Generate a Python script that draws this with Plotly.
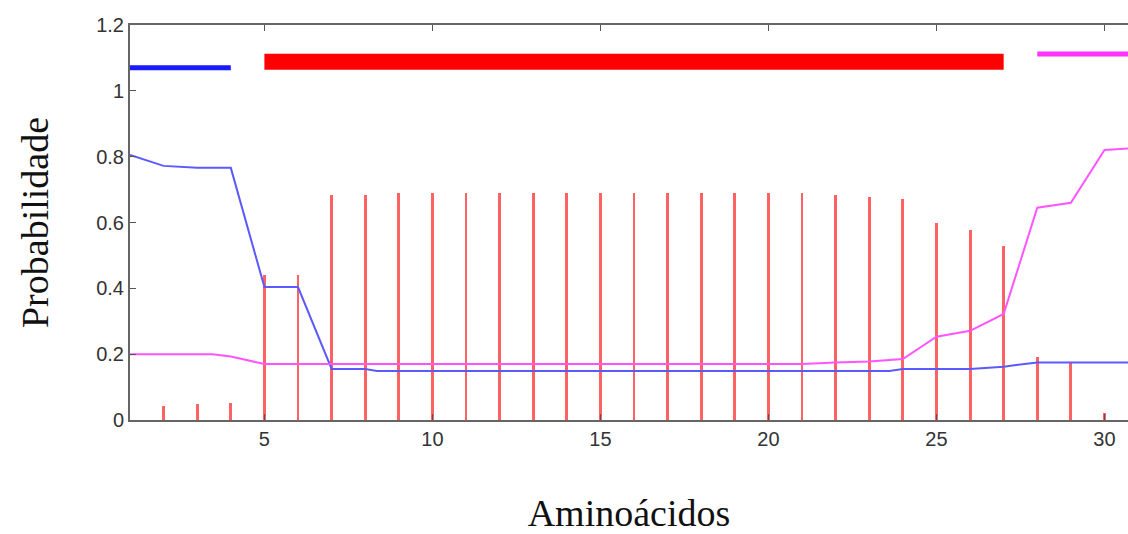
import plotly.graph_objects as go

# Residue positions
positions = list(range(1, 31))

# Red impulses (per-residue probability)
impulse_values = [0.0, 0.042, 0.048, 0.052, 0.44, 0.44, 0.684, 0.684, 0.69, 0.69,
                  0.69, 0.69, 0.69, 0.69, 0.69, 0.69, 0.69, 0.69, 0.69, 0.69,
                  0.69, 0.684, 0.678, 0.67, 0.60, 0.578, 0.53, 0.19, 0.173, 0.02]

# Blue curve
blue_x = [1, 2, 3, 4, 5, 6, 7, 8, 8.35, 23.6, 24, 25, 26, 27, 28, 29, 30, 30.7]
blue_y = [0.805, 0.772, 0.766, 0.766, 0.404, 0.404, 0.155, 0.155, 0.149, 0.149,
          0.155, 0.155, 0.155, 0.162, 0.175, 0.175, 0.175, 0.175]

# Magenta curve
mag_x = [1, 2, 3, 3.45, 4, 5, 6, 21, 22, 23, 24, 25, 26, 27, 28, 29, 30, 30.7]
mag_y = [0.2, 0.2, 0.2, 0.2, 0.193, 0.17, 0.17, 0.17, 0.175, 0.178, 0.185,
         0.253, 0.271, 0.322, 0.645, 0.66, 0.82, 0.825]

# Top segment annotations
blue_seg_x = [1, 4]
blue_seg_y = [1.07, 1.07]
red_seg_x = [5, 27]
red_seg_y = [1.088, 1.088]
mag_seg_x = [28, 30.7]
mag_seg_y = [1.112, 1.112]

x_ticks = [5, 10, 15, 20, 25, 30]
y_ticks = [0, 0.2, 0.4, 0.6, 0.8, 1, 1.2]
y_tick_text = ["0", "0.2", "0.4", "0.6", "0.8", "1", "1.2"]

fig = go.Figure()

fig.add_trace(go.Bar(x=positions, y=impulse_values, width=0.085,
                     marker=dict(color="rgba(255,70,70,0.85)", line=dict(width=0)),
                     showlegend=False))

fig.add_trace(go.Scatter(x=blue_x, y=blue_y, mode="lines",
                         line=dict(color="#5a5aff", width=2), showlegend=False))
fig.add_trace(go.Scatter(x=mag_x, y=mag_y, mode="lines",
                         line=dict(color="#ff55ff", width=2), showlegend=False))

fig.add_trace(go.Scatter(x=blue_seg_x, y=blue_seg_y, mode="lines",
                         line=dict(color="#1a1aff", width=5), showlegend=False))
fig.add_trace(go.Scatter(x=red_seg_x, y=red_seg_y, mode="lines",
                         line=dict(color="#ff0000", width=16), showlegend=False))
fig.add_trace(go.Scatter(x=mag_seg_x, y=mag_seg_y, mode="lines",
                         line=dict(color="#ff33ff", width=5), showlegend=False))

fig.update_layout(
    width=1128, height=534,
    margin=dict(l=130, r=0, t=25, b=114),
    plot_bgcolor="white", paper_bgcolor="white",
    bargap=0,
    xaxis=dict(range=[1, 30.7], tickvals=x_ticks, ticks="inside", ticklen=6,
               tickcolor="#555", showline=True, linecolor="#666", linewidth=2,
               mirror="ticks", showgrid=False, zeroline=False,
               tickfont=dict(family="Liberation Sans, Arial", size=20, color="#333"),
               title=dict(text="Aminoácidos",
                          font=dict(family="Liberation Serif, Times New Roman", size=38, color="#111"),
                          standoff=54)),
    yaxis=dict(range=[0, 1.2], tickvals=y_ticks, ticktext=y_tick_text,
               ticks="inside", ticklen=6, tickcolor="#555",
               showline=True, linecolor="#666", linewidth=2,
               showgrid=False, zeroline=False,
               tickfont=dict(family="Liberation Sans, Arial", size=20, color="#333"),
               title=dict(text="Probabilidade",
                          font=dict(family="Liberation Serif, Times New Roman", size=38, color="#111"),
                          standoff=36)),
)

fig.write_html("out.html")
